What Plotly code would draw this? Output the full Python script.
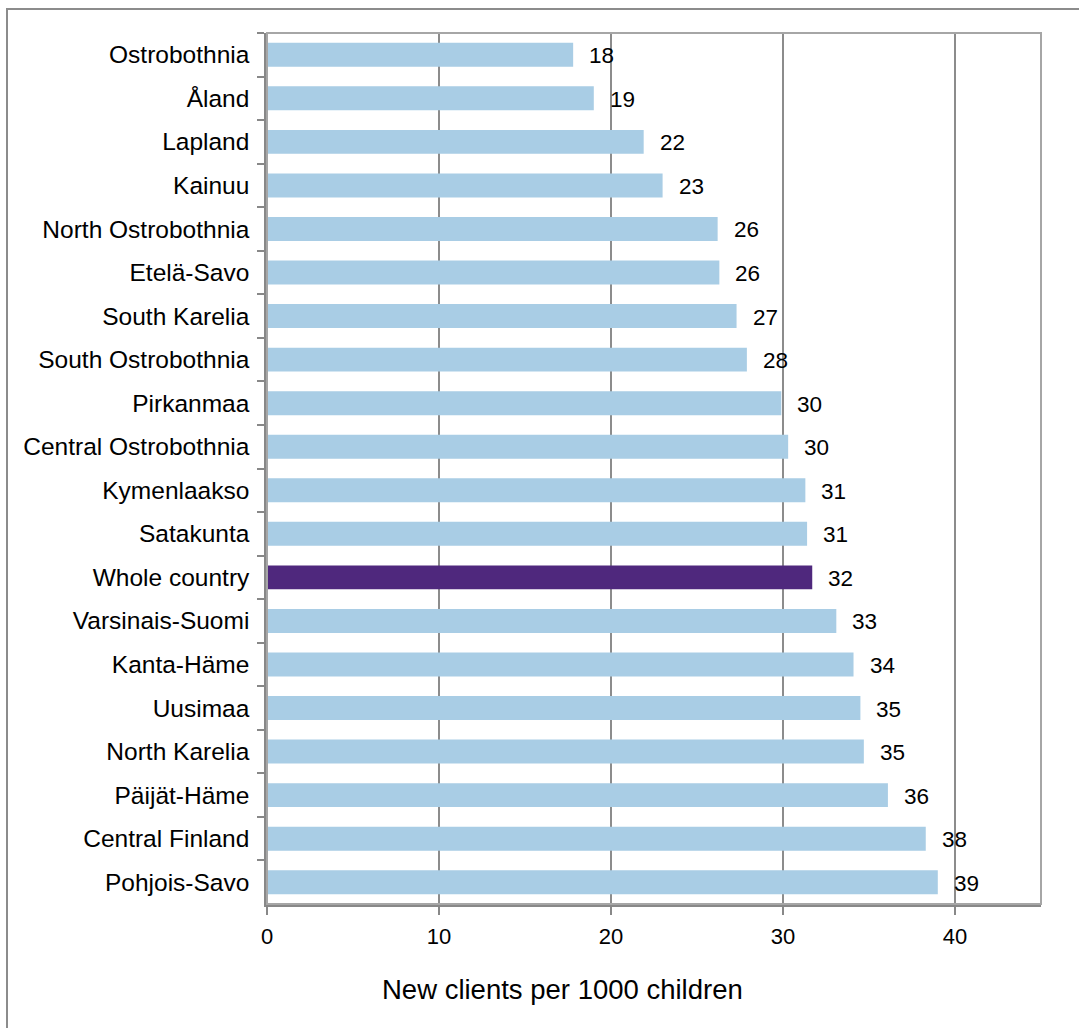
import plotly.graph_objects as go

regions = ["Ostrobothnia", "Åland", "Lapland", "Kainuu", "North Ostrobothnia",
           "Etelä-Savo", "South Karelia", "South Ostrobothnia", "Pirkanmaa",
           "Central Ostrobothnia", "Kymenlaakso", "Satakunta", "Whole country",
           "Varsinais-Suomi", "Kanta-Häme", "Uusimaa", "North Karelia",
           "Päijät-Häme", "Central Finland", "Pohjois-Savo"]
values = [17.8, 19.0, 21.9, 23.0, 26.2, 26.3, 27.3, 27.9, 29.9, 30.3,
          31.3, 31.4, 31.7, 33.1, 34.1, 34.5, 34.7, 36.1, 38.3, 39.0]
labels = ["18", "19", "22", "23", "26", "26", "27", "28", "30", "30",
          "31", "31", "32", "33", "34", "35", "35", "36", "38", "39"]
x_ticks = [0, 10, 20, 30, 40]
x_title = "New clients per 1000 children"

LIGHT = "#A9CDE5"
PURPLE = "#4F287D"
colors = [PURPLE if r == "Whole country" else LIGHT for r in regions]

FONT = "Liberation Sans, Arial, sans-serif"

W, H = 1079, 1028
L, R, T, B = 267, 38, 33, 124
pw, ph = W - L - R, H - T - B

fig = go.Figure()
fig.add_trace(go.Bar(
    x=values, y=regions, orientation="h",
    marker=dict(color=colors, line=dict(width=0)),
    hoverinfo="x+y", showlegend=False,
))

annotations = []
for r, v, lab in zip(regions, values, labels):
    annotations.append(dict(
        x=v, y=r, xref="x", yref="y", text=lab, showarrow=False,
        xanchor="left", yanchor="middle", xshift=14, yshift=-1,
        font=dict(family=FONT, size=22.5, color="#000000"),
    ))
annotations.append(dict(
    x=(562 - L) / pw, y=-(989 - (T + ph)) / ph,
    xref="paper", yref="paper",
    text=x_title, showarrow=False, xanchor="center", yanchor="middle",
    font=dict(family=FONT, size=27.5, color="#000000"),
))

shapes = [
    dict(type="rect", xref="paper", yref="paper", x0=0, x1=1, y0=0, y1=1,
         line=dict(color="#A6A6A6", width=2), layer="above"),
    dict(type="rect", xref="paper", yref="paper",
         x0=(7 - L) / pw, x1=(W + 10 - L) / pw,
         y0=-(H + 10 - (T + ph)) / ph, y1=1 + (T - 9) / ph,
         line=dict(color="#8C8C8C", width=2), layer="below"),
]

fig.update_layout(
    width=W, height=H,
    margin=dict(l=L, r=R, t=T, b=B, pad=0),
    paper_bgcolor="white", plot_bgcolor="white",
    bargap=0.45,
    font=dict(family=FONT, size=22, color="#000000"),
    annotations=annotations,
    shapes=shapes,
    xaxis=dict(
        range=[0, 45], tickvals=x_ticks, ticktext=[str(t) for t in x_ticks],
        showgrid=True, gridcolor="#8C8C8C", gridwidth=1.5,
        zeroline=False, showline=True, linecolor="#888888", linewidth=3,
        ticks="outside", ticklen=8, tickcolor="#888888", tickwidth=2,
        tickfont=dict(family=FONT, size=22, color="#000000"),
        ticklabelstandoff=3, fixedrange=True,
    ),
    yaxis=dict(
        autorange="reversed", type="category",
        showgrid=False, zeroline=False,
        showline=True, linecolor="#888888", linewidth=2.5,
        ticks="outside", ticklen=7, tickcolor="#888888", tickwidth=2,
        tickson="boundaries",
        tickfont=dict(family=FONT, size=24.5, color="#000000"),
        ticklabelstandoff=10, fixedrange=True,
    ),
)

# remove the browser's default 8px body margin so the figure sits at (0,0)
fig.write_html("out.html",
               config={"displayModeBar": False},
               post_script="document.body.style.margin='0';document.body.style.overflow='hidden';")
